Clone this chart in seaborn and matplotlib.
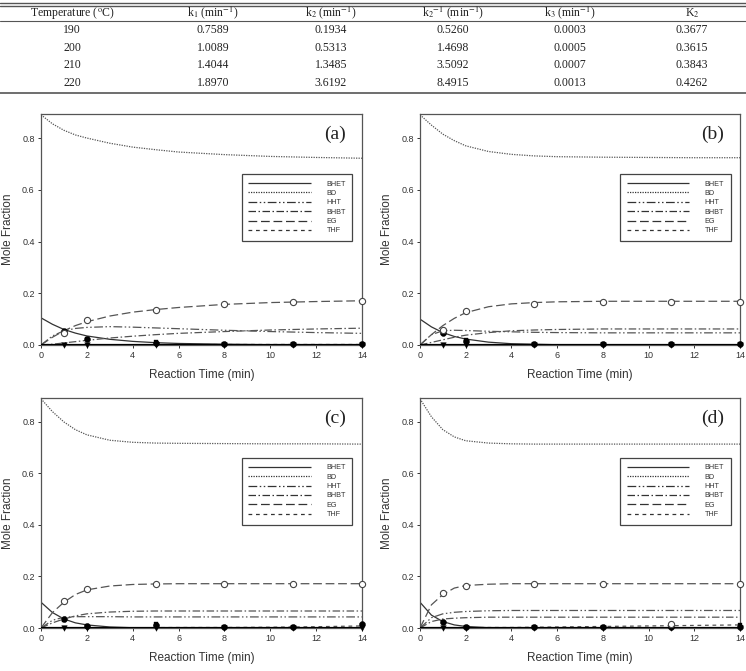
import matplotlib
matplotlib.use('Agg')
import matplotlib.pyplot as plt
import pandas as pd
import seaborn as sns

# ---- table values ----
temps = ['190', '200', '210', '220']
k1 = ['0.7589', '1.0089', '1.4044', '1.8970']
k2 = ['0.1934', '0.5313', '1.3485', '3.6192']
k2_rev = ['0.5260', '1.4698', '3.5092', '8.4915']
k3 = ['0.0003', '0.0005', '0.0007', '0.0013']
K2 = ['0.3677', '0.3615', '0.3843', '0.4262']
headers = [r'Temperature ($^{\rm o}$C)', r'k$_1$ (min$^{-1}$)', r'k$_2$ (min$^{-1}$)',
           r'k$_2$$^{-1}$ (min$^{-1}$)', r'k$_3$ (min$^{-1}$)', r'K$_2$']

# ---- model curves ----
t_model = [0, 0.5, 1, 1.5, 2, 3, 4, 5, 6, 8, 10, 12, 14]

bd_a = [0.89, 0.855, 0.83, 0.812, 0.80, 0.78, 0.765, 0.755, 0.746, 0.736, 0.729, 0.725, 0.722]
eg_a = [0, 0.03, 0.055, 0.075, 0.09, 0.112, 0.127, 0.137, 0.145, 0.157, 0.164, 0.168, 0.171]
hht_a = [0, 0.035, 0.055, 0.064, 0.068, 0.071, 0.069, 0.066, 0.063, 0.057, 0.052, 0.048, 0.045]
bhbt_a = [0, 0.003, 0.008, 0.013, 0.018, 0.027, 0.034, 0.040, 0.045, 0.052, 0.058, 0.062, 0.065]
bhet_a = [0.105, 0.08, 0.06, 0.046, 0.035, 0.022, 0.014, 0.009, 0.006, 0.003, 0.001, 0.0005, 0.0]
thf_a = [0, 0, 0.0005, 0.0005, 0.001, 0.001, 0.001, 0.0015, 0.0015, 0.002, 0.002, 0.002, 0.002]

bd_b = [0.89, 0.85, 0.815, 0.79, 0.77, 0.748, 0.737, 0.731, 0.728, 0.726, 0.725, 0.724, 0.724]
eg_b = [0, 0.04, 0.075, 0.103, 0.125, 0.148, 0.159, 0.164, 0.167, 0.169, 0.169, 0.169, 0.169]
hht_b = [0, 0.04, 0.055, 0.057, 0.056, 0.053, 0.051, 0.049, 0.048, 0.047, 0.047, 0.047, 0.047]
bhbt_b = [0, 0.01, 0.02, 0.03, 0.038, 0.048, 0.055, 0.058, 0.06, 0.062, 0.062, 0.062, 0.062]
bhet_b = [0.1, 0.07, 0.048, 0.033, 0.023, 0.011, 0.005, 0.003, 0.001, 0, 0, 0, 0]
thf_b = [0, 0, 0.0005, 0.001, 0.001, 0.001, 0.001, 0.001, 0.001, 0.001, 0.001, 0.001, 0.001]

bd_c = [0.89, 0.84, 0.80, 0.77, 0.75, 0.729, 0.721, 0.718, 0.717, 0.716, 0.715, 0.715, 0.714]
eg_c = [0, 0.06, 0.1, 0.13, 0.148, 0.163, 0.169, 0.171, 0.172, 0.172, 0.172, 0.172, 0.172]
hht_c = [0, 0.03, 0.042, 0.044, 0.044, 0.044, 0.043, 0.043, 0.043, 0.043, 0.043, 0.043, 0.043]
bhbt_c = [0, 0.02, 0.035, 0.047, 0.055, 0.062, 0.065, 0.066, 0.066, 0.066, 0.066, 0.066, 0.066]
bhet_c = [0.1, 0.06, 0.035, 0.02, 0.012, 0.004, 0.001, 0, 0, 0, 0, 0, 0]
thf_c = [0, 0, 0, 0, 0.001, 0.001, 0.001, 0.0015, 0.002, 0.002, 0.003, 0.005, 0.008]

bd_d = [0.89, 0.82, 0.77, 0.742, 0.727, 0.718, 0.715, 0.714, 0.714, 0.714, 0.714, 0.714, 0.714]
eg_d = [0, 0.09, 0.13, 0.155, 0.165, 0.17, 0.172, 0.172, 0.172, 0.172, 0.172, 0.172, 0.172]
hht_d = [0, 0.04, 0.055, 0.061, 0.064, 0.067, 0.068, 0.068, 0.068, 0.068, 0.068, 0.068, 0.068]
bhbt_d = [0, 0.025, 0.035, 0.038, 0.04, 0.042, 0.042, 0.042, 0.042, 0.042, 0.042, 0.042, 0.042]
bhet_d = [0.1, 0.05, 0.025, 0.012, 0.006, 0.001, 0, 0, 0, 0, 0, 0, 0]
thf_d = [0, 0, 0, 0.001, 0.001, 0.002, 0.002, 0.003, 0.004, 0.006, 0.008, 0.01, 0.012]

# ---- experimental points ----
t_exp = [1, 2, 5, 8, 11, 14]
eg_pts_a = [0.047, 0.095, 0.135, 0.160, 0.168, 0.170]
eg_pts_b = [0.057, 0.130, 0.160, 0.168, 0.165, 0.167]
eg_pts_c = [0.105, 0.150, 0.171, 0.170, 0.170, 0.171]
eg_pts_d = [0.135, 0.162, 0.171, 0.170, 0.015, 0.170]
bhet_pts_a = [0.055, 0.022, 0.008, 0.002, 0.002, 0.002]
bhet_pts_b = [0.047, 0.015, 0.003, 0.002, 0.002, 0.002]
bhet_pts_c = [0.035, 0.008, 0.012, 0.002, 0.003, 0.015]
bhet_pts_d = [0.022, 0.005, 0.002, 0.003, 0.003, 0.005]
sq_pts_a = [0.05, 0.024, 0.01, 0.002, 0.002, 0.002]
sq_pts_b = [0.045, 0.018, 0.003, 0.002, 0.002, 0.002]
sq_pts_c = [0.033, 0.006, 0.015, 0.002, 0.003, 0.012]
sq_pts_d = [0.025, 0.004, 0.002, 0.002, 0.003, 0.012]
thf_pts = [0, 0, 0, 0, 0, 0]

species = ['BHET', 'BD', 'HHT', 'BHBT', 'EG', 'THF']
styles = {
    'BHET': (0, ()),
    'BD': (0, (1, 1)),
    'HHT': (0, (7, 2, 1.2, 2, 1.2, 2)),
    'BHBT': (0, (6, 2, 1.2, 2)),
    'EG': (0, (7, 3)),
    'THF': (0, (3, 3)),
}

panels = [
    ('(a)', [bhet_a, bd_a, hht_a, bhbt_a, eg_a, thf_a], eg_pts_a, bhet_pts_a, sq_pts_a),
    ('(b)', [bhet_b, bd_b, hht_b, bhbt_b, eg_b, thf_b], eg_pts_b, bhet_pts_b, sq_pts_b),
    ('(c)', [bhet_c, bd_c, hht_c, bhbt_c, eg_c, thf_c], eg_pts_c, bhet_pts_c, sq_pts_c),
    ('(d)', [bhet_d, bd_d, hht_d, bhbt_d, eg_d, thf_d], eg_pts_d, bhet_pts_d, sq_pts_d),
]

sns.set_theme(style='white')
plt.rcParams['font.family'] = ['Liberation Sans', 'DejaVu Sans']
plt.rcParams['mathtext.fontset'] = 'stix'

W, H = 746, 671
fig = plt.figure(figsize=(W / 100, H / 100), dpi=100)

# ---- table ----
tab = fig.add_axes([0, 1 - 96 / H, 1, 96 / H])
tab.set_xlim(0, W)
tab.set_ylim(96, 0)
tab.axis('off')
for yy, lw in [(2.5, 1.0), (5.5, 1.0), (20.5, 0.8), (93, 1.2)]:
    tab.axhline(yy, color='#555555', lw=lw)
col_x = [72, 213, 331, 453, 570, 692]
serif = ['Liberation Serif', 'DejaVu Serif']
for x, h in zip(col_x, headers):
    tab.text(x, 13, h, ha='center', va='center', fontsize=8.5, family=serif, color='#222222')
rows = list(zip(temps, k1, k2, k2_rev, k3, K2))
for i, row in enumerate(rows):
    yy = 30 + i * 17.6
    for x, v in zip(col_x, row):
        tab.text(x, yy, v, ha='center', va='center', fontsize=8.5, family=serif, color='#222222')

# ---- panels ----
boxes = [(41, 114, 362, 345), (420, 114, 740, 345), (41, 398, 362, 628), (420, 398, 740, 628)]
line_col = '#555555'
for (label, curves, egp, bhp, sqp), (x0, y0, x1, y1) in zip(panels, boxes):
    ax = fig.add_axes([x0 / W, 1 - y1 / H, (x1 - x0) / W, (y1 - y0) / H])
    for name, vals in zip(species, curves):
        df = pd.DataFrame({'t': t_model, 'y': vals})
        col = '#333333' if name == 'BHET' else line_col
        sns.lineplot(data=df, x='t', y='y', ax=ax, color=col, lw=0.9,
                     linestyle=styles[name], label=name, estimator=None, sort=False)
    # black baseline (near-zero THF / BHET)
    ax.plot([0, 14], [0.001, 0.001], color='black', lw=1.6, zorder=3)
    sns.scatterplot(x=t_exp, y=thf_pts, ax=ax, marker='v', color='black', s=16,
                    edgecolor='black', zorder=5, legend=False, clip_on=False)
    sns.scatterplot(x=t_exp, y=sqp, ax=ax, marker='s', color='black', s=10,
                    edgecolor='black', zorder=5, legend=False, clip_on=False)
    sns.scatterplot(x=t_exp, y=bhp, ax=ax, marker='o', color='black', s=18,
                    edgecolor='black', zorder=6, legend=False, clip_on=False)
    sns.scatterplot(x=t_exp, y=egp, ax=ax, marker='o', facecolor='white', s=20,
                    edgecolor='#444444', linewidth=0.8, zorder=6, legend=False, clip_on=False)
    ax.set_xlim(0, 14)
    ax.set_ylim(0, 0.893)
    ax.set_xticks([0, 2, 4, 6, 8, 10, 12, 14])
    ax.set_yticks([0.0, 0.2, 0.4, 0.6, 0.8])
    ax.set_yticklabels(['0.0', '0.2', '0.4', '0.6', '0.8'])
    ax.tick_params(axis='both', labelsize=6.5, colors='#333333', direction='out',
                   length=2.5, width=0.7, pad=2, bottom=True, left=True)
    for s in ax.spines.values():
        s.set_color('#555555')
        s.set_linewidth(0.9)
    ax.set_xlabel('Reaction Time (min)', fontsize=8.5, color='#333333', labelpad=6)
    ax.set_ylabel('Mole Fraction', fontsize=8.5, color='#333333', labelpad=6)
    ax.text(0.915, 0.91, label, transform=ax.transAxes, ha='center', va='center',
            fontsize=14, family=serif, color='#222222')
    leg = ax.legend(loc='upper left', bbox_to_anchor=(0.626, 0.74), borderaxespad=0,
                    fontsize=5.2, handlelength=8.6, handletextpad=2.2,
                    labelspacing=0.32, borderpad=0.9, fancybox=False, frameon=True,
                    edgecolor='#444444', framealpha=1)
    leg.get_frame().set_linewidth(0.9)
    for txt in leg.get_texts():
        txt.set_color('#333333')
    for ln in leg.get_lines():
        ln.set_color('#333333')

fig.savefig('out.png', dpi=100)
